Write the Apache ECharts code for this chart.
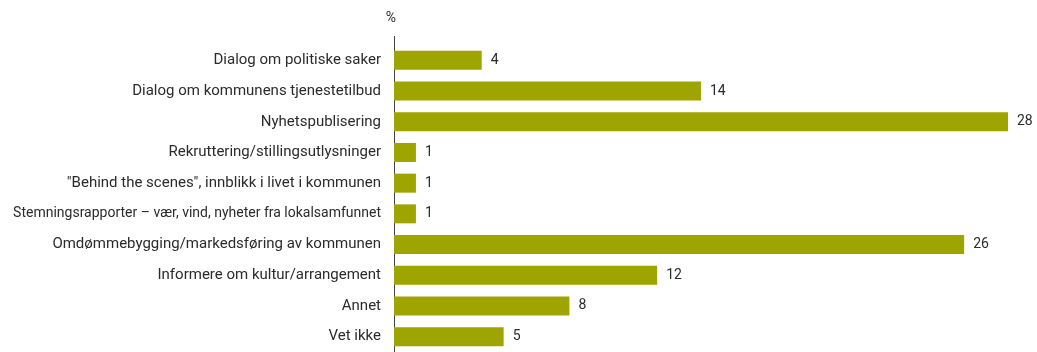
<!DOCTYPE html>
<html>
<head>
<meta charset="utf-8">
<script src="https://cdn.jsdelivr.net/npm/echarts@6/dist/echarts.min.js"></script>
<style>
  html, body { margin: 0; padding: 0; background: #ffffff; }
  #chart { width: 1037px; height: 352px; }
</style>
</head>
<body>
<div id="chart"></div>
<script>
// Formål med kommunens bruk av sosiale medier (prosent)
const categories = [
  'Dialog om politiske saker',
  'Dialog om kommunens tjenestetilbud',
  'Nyhetspublisering',
  'Rekruttering/stillingsutlysninger',
  '"Behind the scenes", innblikk i livet i kommunen',
  'Stemningsrapporter – vær, vind, nyheter fra lokalsamfunnet',
  'Omdømmebygging/markedsføring av kommunen',
  'Informere om kultur/arrangement',
  'Annet',
  'Vet ikke'
];
const values = [4, 14, 28, 1, 1, 1, 26, 12, 8, 5];
const unitLabel = '%';

const chart = echarts.init(document.getElementById('chart'));
const FONT = 'Roboto, "Noto Sans", sans-serif';
const GRID = { left: 394, right: 29, top: 45, bottom: 0 };
const TEXT = '#2b2b2b';

chart.setOption({
  animation: false,
  grid: Object.assign({ containLabel: false }, GRID),
  xAxis: {
    type: 'value',
    min: 0,
    max: 28,
    show: false
  },
  yAxis: {
    type: 'category',
    data: categories,
    inverse: true,
    name: unitLabel,
    nameLocation: 'start',
    nameGap: 20,
    nameTextStyle: { color: TEXT, fontSize: 14, fontFamily: FONT, align: 'center', padding: [0, 0, 0, -6] },
    axisLine: { show: true, lineStyle: { color: '#444', width: 1 } },
    axisTick: { show: false },
    axisLabel: {
      color: TEXT,
      fontSize: 15,
      fontFamily: FONT,
      margin: 13,
      // the longest label is set a little tighter so it fits the margin
      formatter: (v) => v.length > 50 ? '{tight|' + v + '}' : v,
      rich: { tight: { fontSize: 14, fontFamily: FONT, color: TEXT } }
    }
  },
  series: [{
    type: 'bar',
    data: values,
    barWidth: 19,
    itemStyle: { color: '#9ea400' },
    label: {
      show: true,
      position: 'right',
      distance: 9,
      color: TEXT,
      fontSize: 14,
      fontFamily: FONT
    }
  }],
  // short extension of the vertical axis line above the first band
  graphic: [{
    type: 'line',
    shape: { x1: GRID.left + 0.5, y1: GRID.top - 9, x2: GRID.left + 0.5, y2: GRID.top },
    style: { stroke: '#444', lineWidth: 1 }
  }]
});
</script>
</body>
</html>
